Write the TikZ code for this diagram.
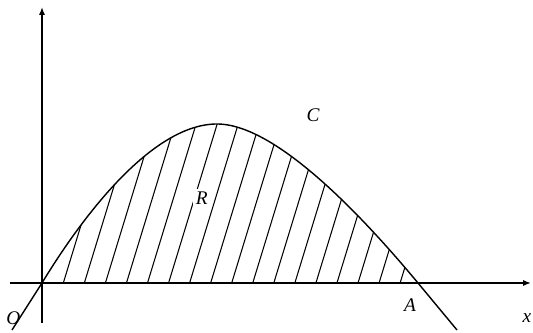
\documentclass[tikz,border=0pt]{standalone}
\usepackage{fontspec}
\setmainfont{Liberation Serif}
\usetikzlibrary{arrows.meta}

\begin{document}
\begin{tikzpicture}[x=0.02cm,y=0.02cm,font=\fontsize{11}{13}\selectfont\itshape,>={Latex[length=4.5pt,width=3.5pt]}]
  \useasboundingbox (-42,-50) rectangle (491,283);
  \coordinate (O) at (0,0);
  \coordinate (top) at (175,159);
  \coordinate (Apt) at (376,0);
  \coordinate (xl) at (-32,0);
  \coordinate (xr) at (489,0);
  \coordinate (yb) at (0,-40);
  \coordinate (yt) at (0,276);
  % hatching of R
  \begin{scope}
    \clip (O) .. controls (40,66) and (110,159) .. (top) .. controls (237,159) and (329,56.4) .. (Apt) -- cycle;
    \foreach \k in {0,...,16}
      \draw[line width=.6pt] ({21.3+21.05*\k},0) -- ++(52,170);
  \end{scope}
  % curve C
  \draw[line width=.8pt] (-30,-47) -- (O) .. controls (40,66) and (110,159) .. (top) .. controls (237,159) and (329,56.4) .. (Apt) -- (415,-47);
  \draw[->,line width=1.1pt] (xl) -- (xr);
  \draw[->,line width=.8pt] (yb) -- (yt);
  \node[fill=white,inner sep=1.5pt] (R) at (159.7,84.7) {R};
  \node (C) at (271,168) {C};
  \node (Olab) at (-28.7,-35) {O};
  \node (A) at (368,-22) {A};
  \node (x) at (485,-35) {x};
\end{tikzpicture}
\end{document}
